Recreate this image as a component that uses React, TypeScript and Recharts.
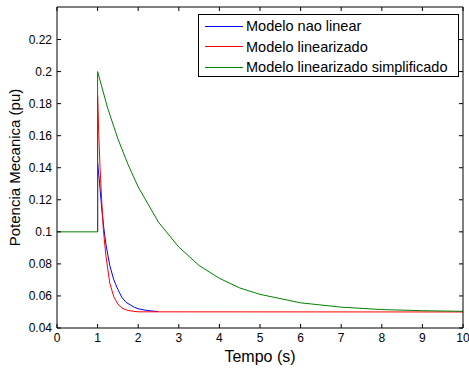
import React from "react";
import { LineChart, Line, XAxis, YAxis, Label } from "recharts";

// tempo (s) and potencia (pu)
const tNaoLinear = [1, 1, 1.05, 1.1, 1.15, 1.2, 1.3, 1.4, 1.5, 1.6, 1.7, 1.8, 1.9, 2.0, 2.2, 2.5];
const pNaoLinear = [0.1, 0.143, 0.13, 0.115, 0.103, 0.093, 0.079, 0.07, 0.064, 0.059, 0.056, 0.0545, 0.053, 0.052, 0.051, 0.0502];

const tLinearizado = [1, 1, 1.03, 1.06, 1.1, 1.14, 1.2, 1.3, 1.4, 1.5, 1.6, 1.7, 1.8, 2.0, 10];
const pLinearizado = [0.1, 0.185, 0.16, 0.14, 0.12, 0.102, 0.086, 0.068, 0.0594, 0.0549, 0.0525, 0.0513, 0.0507, 0.0501, 0.05];

const tSimplificado = [0, 1, 1, 1.25, 1.5, 1.75, 2, 2.5, 3, 3.5, 4, 4.5, 5, 6, 7, 8, 9, 10];
const pSimplificado = [0.1, 0.1, 0.2, 0.177, 0.158, 0.142, 0.128, 0.106, 0.0905, 0.079, 0.071, 0.065, 0.061, 0.0557, 0.053, 0.0515, 0.0508, 0.0504];

const xTicks = [0, 1, 2, 3, 4, 5, 6, 7, 8, 9, 10];
const yTicks = [0.04, 0.06, 0.08, 0.1, 0.12, 0.14, 0.16, 0.18, 0.2, 0.22];

const toPoints = (t: number[], p: number[]) => t.map((x, i) => ({ t: x, p: p[i] }));

const series = [
  { name: "Modelo nao linear", color: "#0000ff", data: toPoints(tNaoLinear, pNaoLinear) },
  { name: "Modelo linearizado", color: "#ff0000", data: toPoints(tLinearizado, pLinearizado) },
  { name: "Modelo linearizado simplificado", color: "#008000", data: toPoints(tSimplificado, pSimplificado) },
];

const font = "'Liberation Sans', Arial, sans-serif";
const tickStyle = { fill: "#000", fontSize: 12, fontFamily: font };
const fmtY = (v: number) => String(Number(v.toFixed(2)));
const blank = () => "";
const yDomain: [number, number] = [0.04, 0.2403];

function LegendBox() {
  return (
    <div
      style={{
        position: "absolute",
        left: 198,
        top: 14,
        width: 261,
        height: 63,
        border: "1px solid #000",
        background: "#fff",
        fontFamily: font,
        fontSize: 14.5,
        color: "#000",
        boxSizing: "border-box",
        paddingTop: 1,
      }}
    >
      {series.map((s) => (
        <div key={s.name} style={{ display: "flex", alignItems: "center", height: 20.5 }}>
          <div style={{ width: 38, height: 0, borderTop: `1px solid ${s.color}`, marginLeft: 6, marginRight: 3 }} />
          <span>{s.name}</span>
        </div>
      ))}
    </div>
  );
}

export default function App() {
  return (
    <div style={{ position: "absolute", left: 0, top: 0, width: 469, height: 370, background: "#fff" }}>
      <LineChart width={469} height={370} margin={{ top: 6, right: 5, left: 0, bottom: 0 }}>
        <XAxis
          xAxisId="b"
          type="number"
          dataKey="t"
          domain={[0, 10]}
          ticks={xTicks}
          allowDataOverflow
          height={42}
          axisLine={{ stroke: "#000" }}
          tickLine={{ stroke: "#000" }}
          tickSize={-4}
          tickMargin={9}
          tick={tickStyle}
        >
          <Label
            content={({ viewBox }: any) => (
              <text
                x={viewBox.x + viewBox.width / 2}
                y={viewBox.y + 34}
                textAnchor="middle"
                fontSize={16}
                fontFamily={font}
                fill="#000"
              >
                Tempo (s)
              </text>
            )}
          />
        </XAxis>
        <XAxis
          xAxisId="t"
          orientation="top"
          type="number"
          dataKey="t"
          domain={[0, 10]}
          ticks={xTicks}
          height={1}
          axisLine={{ stroke: "#000" }}
          tickLine={{ stroke: "#000" }}
          tickSize={-4}
          tickFormatter={blank}
        />
        <YAxis
          yAxisId="l"
          type="number"
          domain={yDomain}
          ticks={yTicks}
          allowDataOverflow
          width={57}
          axisLine={{ stroke: "#000" }}
          tickLine={{ stroke: "#000" }}
          tickSize={-4}
          tickMargin={9}
          tick={tickStyle}
          tickFormatter={fmtY}
        >
          <Label
            content={({ viewBox }: any) => {
              const cx = 14;
              const cy = viewBox.y + viewBox.height / 2;
              return (
                <text
                  x={cx}
                  y={cy}
                  transform={`rotate(-90 ${cx} ${cy})`}
                  textAnchor="middle"
                  dominantBaseline="central"
                  fontSize={15}
                  fontFamily={font}
                  fill="#000"
                >
                  Potencia Mecanica (pu)
                </text>
              );
            }}
          />
        </YAxis>
        <YAxis
          yAxisId="r"
          orientation="right"
          type="number"
          domain={yDomain}
          ticks={yTicks}
          width={1}
          axisLine={{ stroke: "#000" }}
          tickLine={{ stroke: "#000" }}
          tickSize={-4}
          tickFormatter={blank}
        />
        {/* invisible copy so the top and right axes get drawn */}
        <Line
          xAxisId="t"
          yAxisId="r"
          data={series[2].data}
          dataKey="p"
          stroke="none"
          dot={false}
          activeDot={false}
          legendType="none"
          isAnimationActive={false}
        />
        {series.map((s) => (
          <Line
            key={s.name}
            xAxisId="b"
            yAxisId="l"
            data={s.data}
            dataKey="p"
            name={s.name}
            type="linear"
            stroke={s.color}
            strokeWidth={1}
            dot={false}
            activeDot={false}
            isAnimationActive={false}
          />
        ))}
      </LineChart>
      <LegendBox />
    </div>
  );
}
